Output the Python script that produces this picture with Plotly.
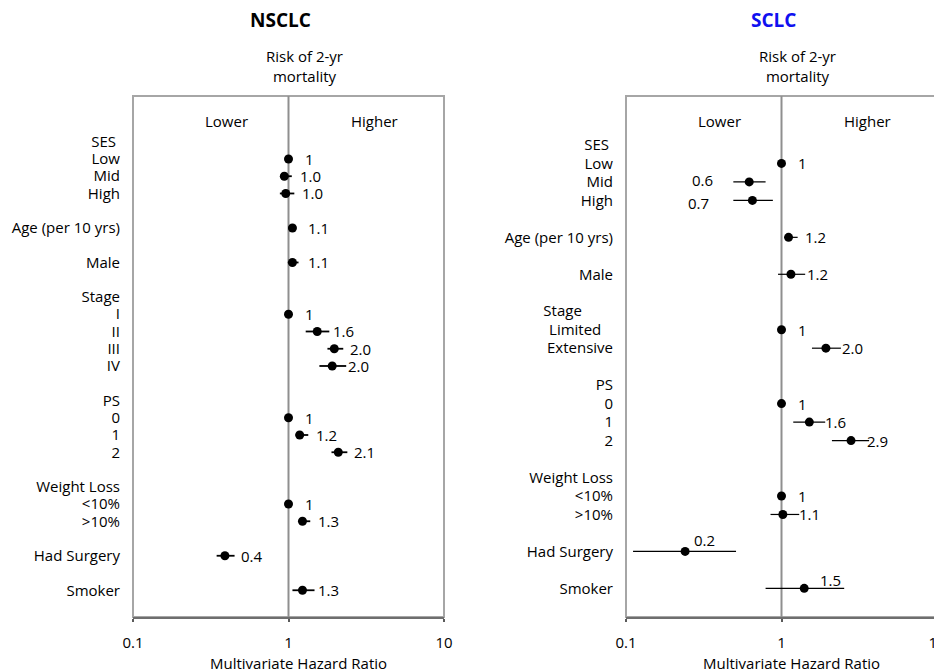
import math
import plotly.graph_objects as go

FONT = "Open Sans"

# ---------------- data ----------------
nsclc_rows = ["SES", "Low", "Mid", "High", "", "Age (per 10 yrs)", "", "Male", "",
              "Stage", "I", "II", "III", "IV", "", "PS", "0", "1", "2", "",
              "Weight Loss", "<10%", ">10%", "", "Had Surgery", "", "Smoker"]
nsclc_hr = [None, 1.0, 0.94, 0.96, None, 1.06, None, 1.06, None,
            None, 1.0, 1.53, 1.97, 1.91, None, None, 1.0, 1.18, 2.09, None,
            None, 1.0, 1.23, None, 0.39, None, 1.23]
nsclc_lo = [None, 1.0, 0.90, 0.88, None, 1.04, None, 0.99, None,
            None, 1.0, 1.29, 1.78, 1.58, None, None, 1.0, 1.11, 1.89, None,
            None, 1.0, 1.16, None, 0.345, None, 1.06]
nsclc_hi = [None, 1.0, 1.05, 1.09, None, 1.08, None, 1.16, None,
            None, 1.0, 1.83, 2.25, 2.35, None, None, 1.0, 1.34, 2.39, None,
            None, 1.0, 1.38, None, 0.45, None, 1.47]
nsclc_text = [None, "1", "1.0", "1.0", None, "1.1", None, "1.1", None,
              None, "1", "1.6", "2.0", "2.0", None, None, "1", "1.2", "2.1", None,
              None, "1", "1.3", None, "0.4", None, "1.3"]

sclc_rows = ["SES", "Low", "Mid", "High", "", "Age (per 10 yrs)", "", "Male", "",
             "Stage", "Limited", "Extensive", "", "PS", "0", "1", "2", "",
             "Weight Loss", "<10%", ">10%", "", "Had Surgery", "", "Smoker"]
sclc_hr = [None, 1.0, 0.62, 0.65, None, 1.11, None, 1.15, None,
           None, 1.0, 1.93, None, None, 1.0, 1.51, 2.80, None,
           None, 1.0, 1.02, None, 0.24, None, 1.40]
sclc_lo = [None, 1.0, 0.49, 0.49, None, 1.05, None, 0.95, None,
           None, 1.0, 1.57, None, None, 1.0, 1.19, 2.11, None,
           None, 1.0, 0.85, None, 0.111, None, 0.79]
sclc_hi = [None, 1.0, 0.79, 0.88, None, 1.27, None, 1.42, None,
           None, 1.0, 2.41, None, None, 1.0, 1.91, 3.66, None,
           None, 1.0, 1.30, None, 0.51, None, 2.53]
sclc_text = [None, "1", "0.6", "0.7", None, "1.2", None, "1.2", None,
             None, "1", "2.0", None, None, "1", "1.6", "2.9", None,
             None, "1", "1.1", None, "0.2", None, "1.5"]

x_tickvals = [0.1, 1, 10]
x_ticktext = ["0.1", "1", "10"]

# ---------------- layout helpers (styling only) ----------------
W, H = 942, 670
OFF = 8  # page body margin
label_pad = {"nsclc": {"SES": 1}, "sclc": {"SES": 1, "Stage": 8, "Limited": 3}}
# special value-label placements: (xshift, yshift, xanchor)
label_place = {"sclc": {"Mid": (-47, 2, "center"), "High": (-54, -3, "center"),
                        "Had Surgery": (19, 11, "center"), "Smoker": (26, 8, "center")}}

panels = [
    dict(key="nsclc", title="NSCLC", tcolor="black", rows=nsclc_rows, hr=nsclc_hr,
         lo=nsclc_lo, hi=nsclc_hi, text=nsclc_text, x0=133, x1=444, thick=1.8,
         xa="x", ya="y"),
    dict(key="sclc", title="SCLC", tcolor="#1010f0", rows=sclc_rows, hr=sclc_hr,
         lo=sclc_lo, hi=sclc_hi, text=sclc_text, x0=626, x1=937, thick=1.2,
         xa="x2", ya="y2"),
]
top_px, bot_px = 96, 617

fig = go.Figure()
annotations = []
shapes = []


def px_x(p):
    return (p - OFF) / W


def px_y(p):
    return 1 - (p - OFF) / H


for i, p in enumerate(panels):
    n = len(p["rows"])
    idx = [k for k in range(n) if p["hr"][k] is not None]
    xs = [p["hr"][k] for k in idx]
    ys = idx
    plus = [p["hi"][k] - p["hr"][k] for k in idx]
    minus = [p["hr"][k] - p["lo"][k] for k in idx]
    fig.add_trace(go.Scatter(
        x=xs, y=ys, mode="markers", xaxis=p["xa"], yaxis=p["ya"],
        marker=dict(color="black", size=9),
        error_x=dict(type="data", symmetric=False, array=plus, arrayminus=minus,
                     width=0, thickness=p["thick"], color="black"),
        showlegend=False, hoverinfo="skip", cliponaxis=False))

    pads = label_pad.get(p["key"], {})
    ticktext = [r + "\u00a0" * pads.get(r, 0) for r in p["rows"]]
    suffix = "" if i == 0 else "2"
    dom_x = [px_x(p["x0"]), px_x(p["x1"])]
    dom_y = [px_y(bot_px), px_y(top_px)]
    fig.layout["xaxis" + suffix] = dict(
        type="log", range=[-1, 1], domain=dom_x, anchor="y" + suffix,
        tickvals=x_tickvals, ticktext=x_ticktext, ticks="outside", ticklen=3,
        tickwidth=2, tickcolor="#5a5a5a", showline=True, linecolor="#6e6e6e",
        linewidth=2, showgrid=False, zeroline=False, ticklabelstandoff=8,
        automargin=False,
        tickfont=dict(family=FONT, size=15, color="black"))
    fig.layout["yaxis" + suffix] = dict(
        range=[n - 1 + 1.55, -2.65], domain=dom_y, anchor="x" + suffix,
        tickvals=list(range(n)), ticktext=ticktext, ticks="", showgrid=False,
        zeroline=False, showline=False, ticklabelstandoff=12, automargin=False,
        tickfont=dict(family=FONT, size=15, color="black"))

    # box (top, left, right) in light gray
    shapes.append(dict(type="rect", xref=p["xa"] + " domain", yref=p["ya"] + " domain",
                       x0=0, x1=1, y0=0, y1=1, line=dict(color="#a6a6a6", width=2),
                       layer="below"))
    # reference line at HR = 1
    shapes.append(dict(type="line", xref=p["xa"], yref=p["ya"] + " domain",
                       x0=1, x1=1, y0=0, y1=1, line=dict(color="#8f8f8f", width=2),
                       layer="below"))

    # value labels
    places = label_place.get(p["key"], {})
    for k in idx:
        row = p["rows"][k]
        xs_, ys_, anc = places.get(row, (14, 0, "left"))
        annotations.append(dict(
            x=math.log10(p["hr"][k]), y=k,
            xref=p["xa"], yref=p["ya"], text=p["text"][k], showarrow=False,
            xanchor=anc, yanchor="middle", xshift=xs_, yshift=ys_,
            font=dict(family=FONT, size=15, color="black")))

    cx = (p["x0"] + p["x1"]) / 2
    # titles
    annotations.append(dict(x=px_x(cx - 8), y=px_y(20), xref="paper", yref="paper",
                            text="<b>%s</b>" % p["title"], showarrow=False,
                            xanchor="center", yanchor="middle",
                            font=dict(family=FONT, size=19, color=p["tcolor"])))
    annotations.append(dict(x=px_x(cx + 16), y=px_y(66), xref="paper", yref="paper",
                            text="Risk of 2-yr<br>mortality", showarrow=False,
                            xanchor="center", yanchor="middle",
                            font=dict(family=FONT, size=15, color="black")))
    # Lower / Higher
    annotations.append(dict(x=0.3, y=px_y(121), xref=p["xa"] + " domain", yref="paper",
                            text="Lower", showarrow=False, xanchor="center",
                            yanchor="middle", font=dict(family=FONT, size=15, color="black")))
    annotations.append(dict(x=0.775, y=px_y(121), xref=p["xa"] + " domain", yref="paper",
                            text="Higher", showarrow=False, xanchor="center",
                            yanchor="middle", font=dict(family=FONT, size=15, color="black")))
    # x axis title
    annotations.append(dict(x=px_x(cx + 10), y=px_y(663), xref="paper", yref="paper",
                            text="Multivariate Hazard Ratio", showarrow=False,
                            xanchor="center", yanchor="middle",
                            font=dict(family=FONT, size=15, color="black")))

fig.update_layout(width=W, height=H, margin=dict(l=0, r=0, t=0, b=0),
                  paper_bgcolor="white", plot_bgcolor="white",
                  annotations=annotations, shapes=shapes,
                  font=dict(family=FONT, size=15, color="black"))

fig.write_html("out.html")
